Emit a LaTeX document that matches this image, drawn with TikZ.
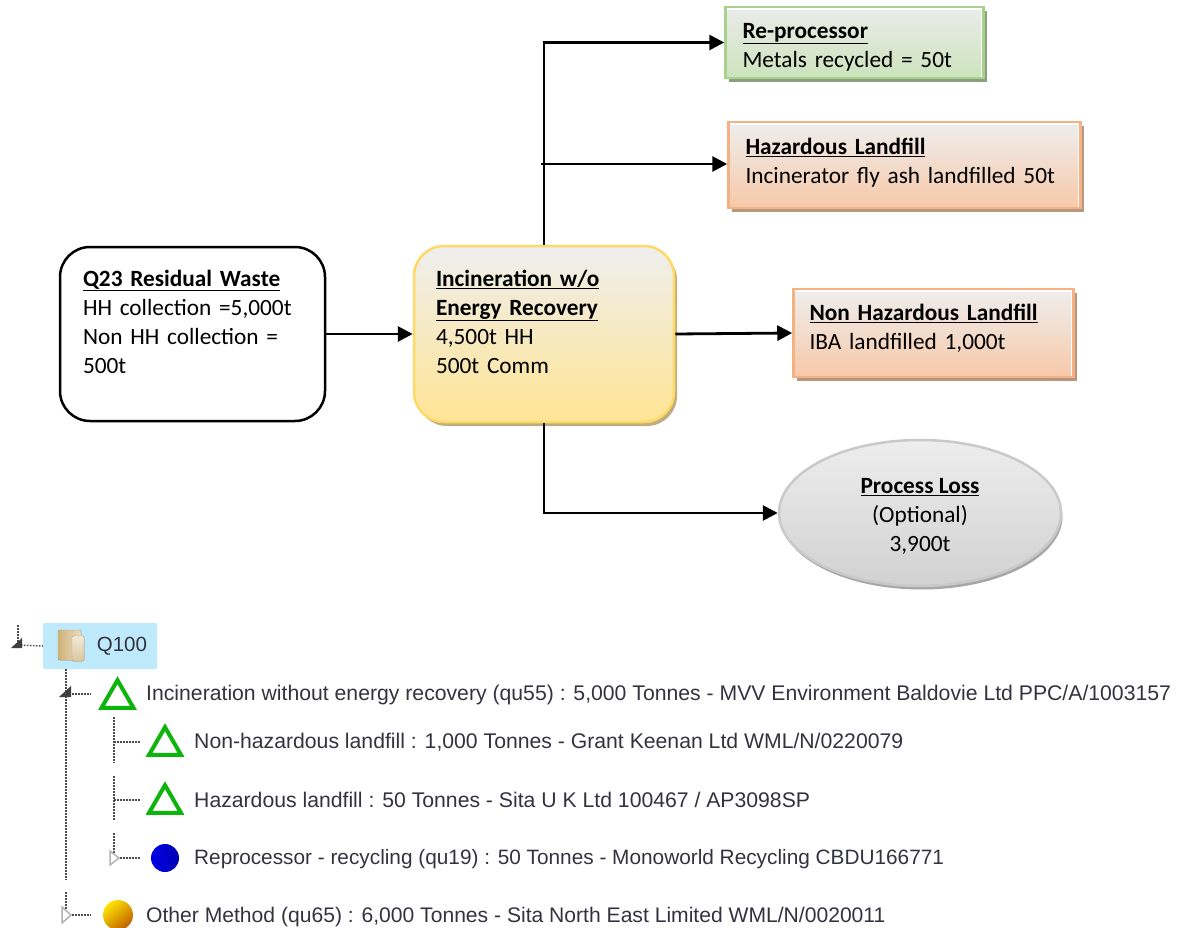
\documentclass[tikz,border=0pt]{standalone}
\usepackage{fontspec}
\setmainfont{Carlito}
\newfontfamily\treefont{Liberation Sans}
\usetikzlibrary{arrows.meta,shadows,shapes.geometric}

\definecolor{greenline}{HTML}{A9D18E}
\definecolor{orangeline}{HTML}{F4B183}
\definecolor{yellowline}{HTML}{FFD966}
\definecolor{greyline}{HTML}{C9C9C9}
\definecolor{treegreen}{HTML}{0CB40C}
\definecolor{treetext}{HTML}{33333F}
\definecolor{foldertan}{HTML}{C9A96A}

\tikzset{
    flow/.style={-{Triangle[length=15pt,width=15pt]}, line width=2.8pt},
    gloss/.style={path picture={\draw[white, line width=6pt] (path picture bounding box.north west) -- (path picture bounding box.north east) -- (path picture bounding box.south east);}},
    box/.style={rectangle, draw, line width=2.5pt, align=left, inner ysep=0pt, font=\fontsize{23.3}{29}\selectfont},
    greenbox/.style={box, gloss, draw=greenline, top color=green!3!black!8, bottom color=green!30!black!0!greenline!60,
        drop shadow={shadow xshift=3.5pt, shadow yshift=-4pt, opacity=1, fill=greenline!60!black!75}},
    orangebox/.style={box, gloss, draw=orangeline, top color=orangeline!10!black!7, bottom color=orangeline!70,
        drop shadow={shadow xshift=3.5pt, shadow yshift=-4pt, opacity=1, fill=orangeline!65!black!75}},
    treelabel/.style={anchor=west, text=treetext, inner sep=0pt, font=\treefont\fontsize{21.2}{24}\selectfont},
    treemark/.style={regular polygon, regular polygon sides=3, draw=treegreen, line width=4pt, inner sep=0pt, outer sep=0pt, minimum size=37pt},
    treeline/.style={dash pattern=on 1.5pt off 1.5pt, line width=1.5pt, black!70},
    openmark/.style={draw=black!30, line width=1.5pt, fill=white},
    shutmark/.style={fill=black!75}
}

\newcommand{\boxhead}[1]{\underline{\textbf{#1}}}

\begin{document}
\begin{tikzpicture}[x=1pt, y=-1pt, node distance=100pt]
    \useasboundingbox (0,0) rectangle (1183,928);

    % flow boxes
    \node(waste)[box, rounded corners=30pt, draw=black, fill=white, text width=219pt, inner xsep=23pt, minimum height=174pt] at (192.5,334)
        {\boxhead{Q23 Residual Waste}\\HH collection =5,000t\\Non HH collection =\\500t\\[-4pt]~};
    \node(incin)[box, rounded corners=30pt, draw=yellowline, top color=yellowline!8!black!7, bottom color=yellowline!70,
        drop shadow={shadow xshift=3pt, shadow yshift=-4pt, opacity=1, fill=yellowline!60!black!65},
        text width=216pt, inner xsep=22pt, minimum height=176pt, right of=waste, xshift=251.5pt]
        {\boxhead{Incineration w/o}\\\boxhead{Energy Recovery}\\4,500t HH\\500t Comm\\[-4pt]~};
    \node(reproc)[greenbox, text width=224pt, inner xsep=17pt, minimum height=71pt, right of=incin, xshift=210.5pt, yshift=291.5pt]
        {\rule{0pt}{25pt}\boxhead{Re-processor}\\Metals recycled = 50t};
    \node(hazard)[orangebox, text width=318pt, inner xsep=17pt, minimum height=86pt, right of=incin, xshift=260.5pt, yshift=169pt]
        {\boxhead{Hazardous Landfill}\\Incinerator fly ash landfilled 50t\\[-20pt]~};
    \node(nonhaz)[orangebox, text width=248pt, inner xsep=16pt, minimum height=88pt, right of=incin, xshift=289.5pt, yshift=1pt]
        {\boxhead{Non Hazardous Landfill}\\IBA landfilled 1,000t\\[-16pt]~};
    \node(loss)[ellipse, draw=greyline, line width=2.5pt, top color=black!7, bottom color=black!18, align=center, inner sep=0pt,
        font=\fontsize{23.3}{29}\selectfont, minimum width=282pt, minimum height=146pt,
        drop shadow={shadow xshift=1.5pt, shadow yshift=-3.5pt, opacity=1, fill=black!35},
        right of=incin, xshift=276pt, yshift=-179pt]
        {\rule{0pt}{22pt}\boxhead{Process Loss}\\(Optional)\\3,900t};

    \coordinate(branch) at (541,164);

    \draw[flow] (waste) -- (incin);
    \draw[flow] (incin.north) |- (reproc.west);
    \draw[flow] (branch) -- (branch -| hazard.west);
    \draw[flow] (incin.east) -- (nonhaz.west);
    \draw[flow] (incin.south) |- (loss.west);

    % tree view
    \node(root)[rectangle, rounded corners=1pt, fill=cyan!25!white, text=treetext, inner sep=0pt, text width=114pt, align=right, minimum height=46pt,
        font=\treefont\fontsize{20.5}{24}\selectfont] at (100,646) {Q100\hspace*{10pt}};
    \filldraw[rounded corners=2pt, draw=foldertan, left color=foldertan!90, right color=foldertan!40!white] (58,630) rectangle (81,660);
    \filldraw[rounded corners=1pt, draw=foldertan, top color=foldertan!25!white, bottom color=foldertan!65!white] (72,636) rectangle (84,661);

    \node(mainmark)[treemark] at (117.5,698.7) {};
    \node(mainlabel)[treelabel] at (146,695) {Incineration without energy recovery (qu55) : 5,000 Tonnes - MVV Environment Baldovie Ltd PPC/A/1003157};
    \node(nonmark)[treemark] at (165,745.7) {};
    \node(nonlabel)[treelabel] at (194,742) {Non-hazardous landfill : 1,000 Tonnes - Grant Keenan Ltd WML/N/0220079};
    \node(hazmark)[treemark] at (165,803.7) {};
    \node(hazlabel)[treelabel] at (194,799.5) {Hazardous landfill : 50 Tonnes - Sita U K Ltd 100467 / AP3098SP};
    \node(blueball)[circle, inner sep=0pt, minimum size=28pt, left color=blue!90!black, right color=blue!70!black] at (165,858) {};
    \node(bluelabel)[treelabel, font=\treefont\fontsize{20.8}{24}\selectfont] at (194,859) {Reprocessor - recycling (qu19) : 50 Tonnes - Monoworld Recycling CBDU166771};
    \node(goldball)[circle, inner sep=0pt, minimum size=30pt, left color=yellow!80!orange, right color=orange!75!black, shading angle=40] at (118,915) {};
    \node(goldlabel)[treelabel, font=\treefont\fontsize{21.1}{24}\selectfont] at (146,917) {Other Method (qu65) : 6,000 Tonnes - Sita North East Limited WML/N/0020011};

    \coordinate(rootfork) at (18,645);
    \coordinate(rootup) at (18,625);
    \coordinate(mainfork) at (66,694);
    \coordinate(mainend) at (66,880);
    \coordinate(nonfork) at (114,742);
    \coordinate(nonup) at (114,717);
    \coordinate(nondown) at (114,763);
    \coordinate(hazfork) at (114,800);
    \coordinate(hazup) at (114,776);
    \coordinate(hazdown) at (114,821);
    \coordinate(bluefork) at (114,858);
    \coordinate(blueup) at (114,833);
    \coordinate(goldfork) at (66,915);
    \coordinate(goldup) at (66,892);

    \draw[treeline] (rootup) -- (rootfork);
    \draw[treeline] (rootfork) -- (root.west);
    \draw[treeline] (root.south -| mainfork) -- (mainend);
    \draw[treeline] (mainfork) -- ++(25,0);
    \draw[treeline] (nonup) -- (nondown);
    \draw[treeline] (nonfork) -- ++(26,0);
    \draw[treeline] (hazup) -- (hazdown);
    \draw[treeline] (hazfork) -- ++(26,0);
    \draw[treeline] (blueup) -- (bluefork);
    \draw[treeline] (bluefork) -- ++(26,0);
    \draw[treeline] (goldup) -- (goldfork);
    \draw[treeline] (goldfork) -- ++(25,0);

    \fill[shutmark] (11,648) -- (22,648) -- (22,638) -- cycle;
    \fill[shutmark] (59,697) -- (71,697) -- (71,686) -- cycle;
    \draw[openmark] (110,851) -- (119,858) -- (110,865) -- cycle;
    \draw[openmark] (62,907) -- (71,915) -- (62,923) -- cycle;
\end{tikzpicture}
\end{document}
